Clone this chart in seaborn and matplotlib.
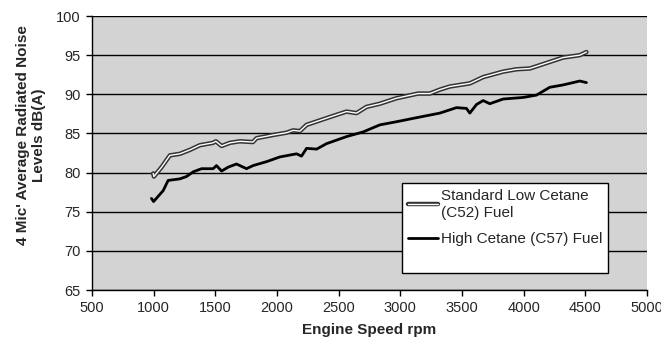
import numpy as np
import pandas as pd
import matplotlib
matplotlib.use("Agg")
from matplotlib import pyplot as plt
from matplotlib.patches import Rectangle
import matplotlib.patheffects as pe
import seaborn as sns

# values
std_rpm = [997, 1003, 1065, 1132, 1213, 1294, 1375, 1481, 1505, 1551, 1618, 1700, 1805, 1835,
           1968, 2078, 2132, 2186, 2240, 2429, 2564, 2645, 2726, 2834, 2969, 3144, 3239, 3320,
           3401, 3563, 3671, 3833, 3941, 4049, 4184, 4319, 4454, 4508]
std_db = [79.9, 79.5, 80.7, 82.2, 82.4, 82.9, 83.5, 83.8, 84.0, 83.4, 83.8, 84.0, 83.9, 84.4,
          84.8, 85.1, 85.4, 85.3, 86.1, 87.1, 87.8, 87.6, 88.4, 88.8, 89.5, 90.1, 90.1, 90.6,
          91.0, 91.4, 92.2, 92.9, 93.2, 93.3, 94.0, 94.7, 95.0, 95.4]

high_rpm = [983, 1000, 1078, 1118, 1213, 1267, 1321, 1389, 1483, 1510, 1551, 1605, 1672, 1753,
            1807, 1916, 2023, 2159, 2199, 2240, 2321, 2402, 2564, 2699, 2834, 2969, 3158, 3320,
            3455, 3536, 3563, 3617, 3671, 3725, 3833, 3995, 4103, 4211, 4319, 4454, 4508]
high_db = [76.7, 76.3, 77.7, 79.0, 79.2, 79.5, 80.1, 80.5, 80.5, 80.9, 80.2, 80.7, 81.1, 80.5,
           80.9, 81.4, 82.0, 82.4, 82.1, 83.1, 83.0, 83.7, 84.6, 85.2, 86.1, 86.5, 87.1, 87.6,
           88.3, 88.2, 87.6, 88.7, 89.2, 88.8, 89.4, 89.6, 89.9, 90.9, 91.2, 91.7, 91.5]

labels = ["Standard Low Cetane\n(C52) Fuel", "High Cetane (C57) Fuel"]

sns.set_style("white")
plt.rcParams['font.family'] = ['Liberation Sans', 'DejaVu Sans']

fig = plt.figure(figsize=(6.61, 3.49), dpi=100)
ax = fig.add_axes([0.139, 0.169, 0.840, 0.785])
ax.set_facecolor('#d3d3d3')

df_std = pd.DataFrame({'rpm': std_rpm, 'db': std_db})
df_high = pd.DataFrame({'rpm': high_rpm, 'db': high_db})

sns.lineplot(data=df_std, x='rpm', y='db', ax=ax, color='white', linewidth=1.0,
             label=labels[0],
             path_effects=[pe.Stroke(linewidth=3.2, foreground='#333333'), pe.Normal()])
sns.lineplot(data=df_high, x='rpm', y='db', ax=ax, color='black', linewidth=2.0,
             label=labels[1])

ax.set_xlim(500, 5000)
ax.set_ylim(65, 100)
ax.set_xticks(range(500, 5001, 500))
ax.set_yticks(range(65, 101, 5))
ax.grid(axis='y', color='black', linewidth=1.0)
ax.set_axisbelow(True)
for s in ['top', 'right']:
    ax.spines[s].set_visible(False)
for s in ['left', 'bottom']:
    ax.spines[s].set_color('black')
    ax.spines[s].set_linewidth(1.0)
ax.tick_params(axis='both', direction='out', length=4, width=1, color='black',
               labelsize=10.5, pad=4, left=True, bottom=True)

bold = dict(family=['Liberation Sans Narrow', 'Liberation Sans'], weight='bold', size=11)
ax.set_xlabel('Engine Speed rpm', labelpad=6, **bold)
ax.set_ylabel("4 Mic' Average Radiated Noise\nLevels dB(A)", **bold)
ax.yaxis.set_label_coords(-0.083, 0.566)

# legend box (fixed size, with empty space at the bottom like the original)
ax.add_patch(Rectangle((0.559, 0.062), 0.371, 0.328, transform=ax.transAxes,
                       facecolor='white', edgecolor='black', linewidth=1.0, zorder=4))
leg = ax.legend(loc='upper left', bbox_to_anchor=(0.559, 0.39), frameon=False,
                fontsize=11, handlelength=2.0, handletextpad=0.2, borderaxespad=0,
                borderpad=0.35, labelspacing=0.8)
for t in leg.get_texts():
    t.set_linespacing(1.3)
leg.set_zorder(5)

plt.savefig('out.png', dpi=100)
